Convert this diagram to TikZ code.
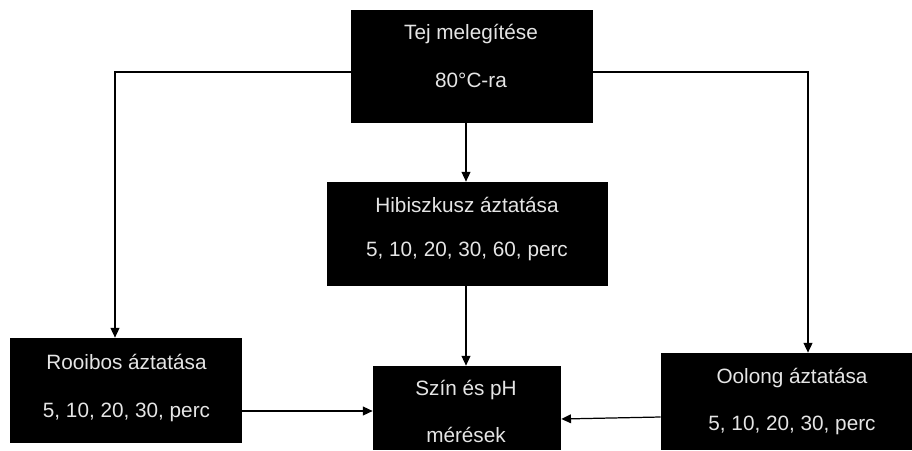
\documentclass[tikz,border=0pt]{standalone}
\usepackage{fontspec}
\setmainfont{Liberation Sans}
\usetikzlibrary{arrows.meta,fit}

\begin{document}
\begin{tikzpicture}[x=0.02cm, y=-0.02cm,
    box/.style={fill=black, inner sep=0pt},
    txt/.style={text=white!90!black, font=\fontsize{11.8}{14}\selectfont, inner sep=0pt, anchor=base},
    arr/.style={-{Triangle[length=5.5pt,width=5pt]}, line width=0.7pt}]
    \useasboundingbox (0,0) rectangle (912,450);

    % Nodes
    \node[box, fit={(351,10) (593,123)}] (heat) {};
    \node[txt] (heat1) at (471,39) {Tej melegítése};
    \node[txt] (heat2) at (471,87) {80°C-ra};

    \node[box, fit={(327,182) (608,286)}] (hib) {};
    \node[txt] (hib1) at (467,212) {Hibiszkusz áztatása};
    \node[txt] (hib2) at (467,256) {5, 10, 20, 30, 60, perc};

    \node[box, fit={(10,338) (242,443)}] (roo) {};
    \node[txt] (roo1) at (126.5,369) {Rooibos áztatása};
    \node[txt] (roo2) at (126.5,417) {5, 10, 20, 30, perc};

    \node[box, fit={(373,366) (561,450)}] (szin) {};
    \node[txt] (szin1) at (466,395) {Szín és pH};
    \node[txt] (szin2) at (466,442) {mérések};

    \node[box, fit={(661,353) (912,450)}] (oolong) {};
    \node[txt] (oolong1) at (792,383) {Oolong áztatása};
    \node[txt] (oolong2) at (792,430) {5, 10, 20, 30, perc};

    % Arrows
    \draw[arr] (heat.west |- 0,72) -| (roo.north -| 115,0);
    \draw[arr] (heat.east |- 0,72) -| (oolong.north -| 808,0);
    \draw[arr] (heat.south -| 466,0) -- (hib.north -| 466,0);
    \draw[arr] (hib.south -| 466,0) -- (szin.north -| 466,0);
    \draw[arr] (roo.east |- 0,411) -- (szin.west |- 0,411);
    \draw[arr] (oolong.west |- 0,417) -- (szin.east |- 0,419);
\end{tikzpicture}
\end{document}
